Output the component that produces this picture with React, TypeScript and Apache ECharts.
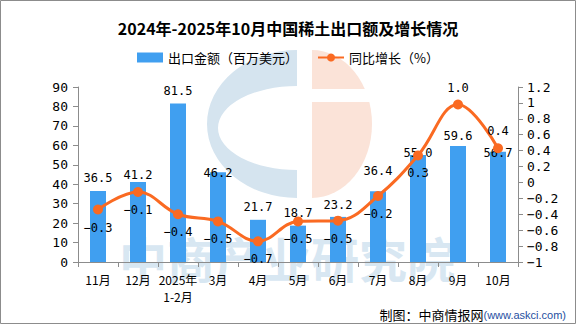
import React, { useEffect, useRef } from "react";
import * as echarts from "echarts";

const categories = ["11月", "12月", "2025年\n1-2月", "3月", "4月", "5月", "6月", "7月", "8月", "9月", "10月"];
const exportValues = [36.5, 41.2, 81.5, 46.2, 21.7, 18.7, 23.2, 36.4, 55.0, 59.6, 56.7];
const growthValues = [-0.34, -0.12, -0.4, -0.49, -0.74, -0.49, -0.48, -0.17, 0.34, 0.98, 0.43];
const leftTicks = { min: 0, max: 90, interval: 10 };
const rightTicks = { min: -1, max: 1.2, interval: 0.2 };

// layout tweaks for label placement (pixels, positive = down)
const barLabelShift = [0, 6, 0, 14, 0, 0, 1, -7, 11, 3, 14];
const lineLabelAbove = [false, false, false, false, false, false, false, false, false, true, true];

const BLUE = "#409ff0";
const ORANGE = "#fa6a22";
const numFont = "'DejaVu Sans Mono', 'Noto Sans CJK SC', monospace";
const cjkFont = "'Noto Sans CJK SC', sans-serif";

const fmtMinus = (s: string) => s.replace("-", "−");

echarts.graphic.registerShape(
  "logoBlue",
  echarts.graphic.extendPath("M 297 50 A 90 74 0 0 0 297 198 L 297 170 A 79 42 0 0 1 297 86 Z", {})
);
echarts.graphic.registerShape(
  "logoOrange",
  echarts.graphic.extendPath("M 312 50 A 60 74 0 0 1 312 198 Z", {})
);

export default function App() {
  const ref = useRef<HTMLDivElement>(null);
  useEffect(() => {
    document.body.style.margin = "0";
    if (!ref.current) return;
    const chart = echarts.init(ref.current, undefined, { renderer: "svg" });
    chart.setOption({
      animation: false,
      backgroundColor: "#ffffff",
      title: {
        text: "2024年-2025年10月中国稀土出口额及增长情况",
        left: "center",
        top: 15,
        textStyle: { fontFamily: cjkFont, fontSize: 16, fontWeight: "bold", color: "#000" },
      },
      legend: {
        top: 46,
        left: "center",
        itemWidth: 26,
        itemHeight: 10,
        itemGap: 19,
        textStyle: { fontFamily: cjkFont, fontSize: 13, color: "#000" },
        data: [
          { name: "出口金额（百万美元）", icon: "rect" },
          { name: "同比增长（%）" },
        ],
      },
      graphic: [
        {
          type: "rect",
          z: -10,
          silent: true,
          shape: { x: 0.5, y: 0.5, width: 575, height: 323 },
          style: { fill: "none", stroke: "#8c8c8c", lineWidth: 1 },
        },
        { type: "logoBlue", z: -10, silent: true, style: { fill: "#d5e4ef" } },
        { type: "logoOrange", z: -10, silent: true, style: { fill: "#fbe3d8" } },
        {
          type: "rect",
          z: -9,
          silent: true,
          shape: { x: 310, y: 89, width: 70, height: 13 },
          style: { fill: "#ffffff" },
        },
        {
          type: "text",
          z: -8,
          silent: true,
          x: 287,
          y: 257,
          style: {
            text: "中商产业研究院",
            fontFamily: cjkFont,
            fontSize: 48,
            fontWeight: "bold",
            fill: "#d8e7f2",
            align: "center",
            verticalAlign: "middle",
          },
        },
        {
          type: "text",
          right: 10,
          top: 308,
          style: {
            text: "{a|制图：中商情报网}{b|(www.askci.com)}",
            rich: {
              a: { fontFamily: cjkFont, fontSize: 13, fill: "#000" },
              b: { fontFamily: "'Liberation Sans', sans-serif", fontSize: 11, fill: "#1f4f9f" },
            },
          },
        },
      ],
      grid: { left: 78, right: 58, top: 87, bottom: 62 },
      xAxis: {
        type: "category",
        data: categories,
        boundaryGap: true,
        axisLine: { lineStyle: { color: "#8c8c8c" } },
        axisTick: { show: true, length: 5, lineStyle: { color: "#8c8c8c" } },
        axisLabel: { fontFamily: cjkFont, fontSize: 12, color: "#000", margin: 9, interval: 0, lineHeight: 17 },
      },
      yAxis: [
        {
          type: "value",
          min: leftTicks.min,
          max: leftTicks.max,
          interval: leftTicks.interval,
          splitLine: { show: false },
          axisLine: { show: true, lineStyle: { color: "#8c8c8c" } },
          axisTick: { show: true, length: 5, lineStyle: { color: "#8c8c8c" } },
          axisLabel: { fontFamily: numFont, fontSize: 13, color: "#000", margin: 10 },
        },
        {
          type: "value",
          min: rightTicks.min,
          max: rightTicks.max,
          interval: rightTicks.interval,
          splitLine: { show: false },
          axisLine: { show: true, lineStyle: { color: "#8c8c8c" } },
          axisTick: { show: true, length: 5, lineStyle: { color: "#8c8c8c" } },
          axisLabel: {
            fontFamily: numFont,
            fontSize: 13,
            color: "#000",
            margin: 9,
            formatter: (v: number) => fmtMinus(String(Math.round(v * 10) / 10)),
          },
        },
      ],
      series: [
        {
          name: "出口金额（百万美元）",
          type: "bar",
          barWidth: 16,
          itemStyle: { color: BLUE },
          data: exportValues.map((v, i) => ({
            value: v,
            label: { offset: [0, barLabelShift[i]] },
          })),
          label: {
            show: true,
            position: "top",
            distance: 7,
            fontFamily: numFont,
            fontSize: 12,
            color: "#000",
            formatter: (p: any) => Number(p.value).toFixed(1),
          },
        },
        {
          name: "同比增长（%）",
          type: "line",
          yAxisIndex: 1,
          smooth: 0.4,
          symbol: "circle",
          symbolSize: 10,
          lineStyle: { color: ORANGE, width: 3 },
          itemStyle: { color: ORANGE },
          data: growthValues.map((v, i) => ({
            value: v,
            label: { position: lineLabelAbove[i] ? "top" : "bottom", distance: lineLabelAbove[i] ? 6 : 7 },
          })),
          label: {
            show: true,
            fontFamily: numFont,
            fontSize: 12,
            color: "#000",
            formatter: (p: any) => fmtMinus(Number(p.value).toFixed(1)),
          },
        },
      ],
    });
    return () => chart.dispose();
  }, []);
  return <div ref={ref} style={{ width: 576, height: 324 }} />;
}
